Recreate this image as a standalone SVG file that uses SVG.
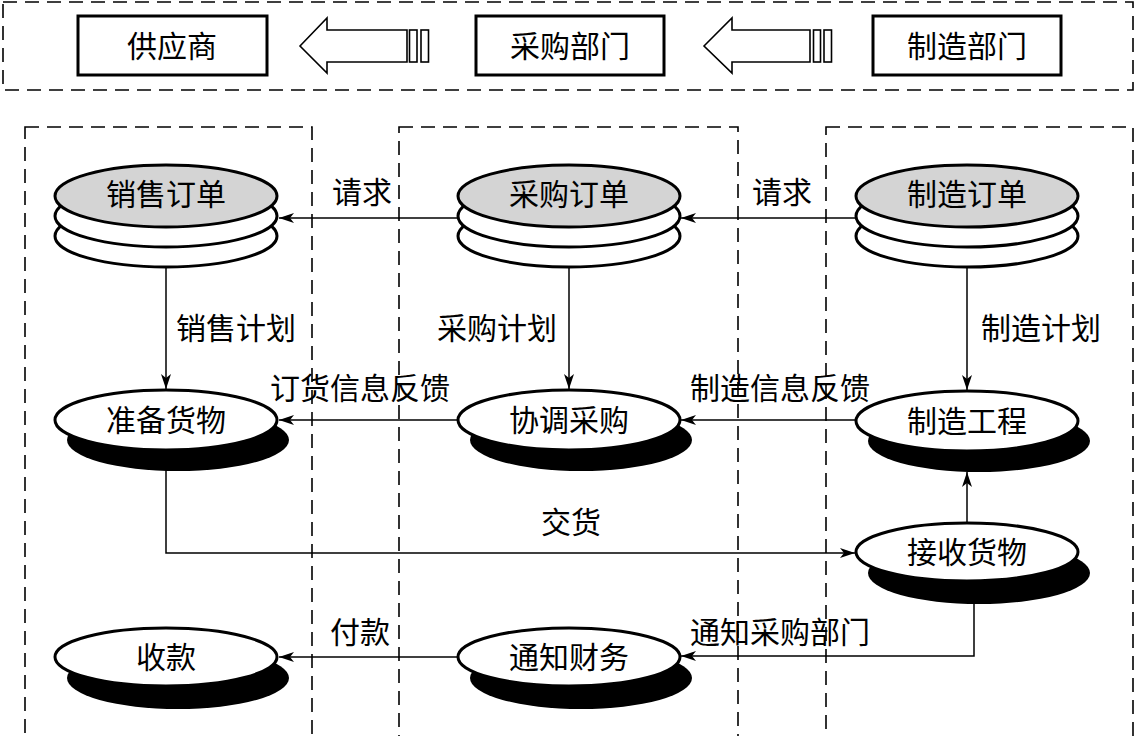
<svg xmlns="http://www.w3.org/2000/svg" width="1137" height="736" viewBox="0 0 1137 736">
<style>
.t{font-family:"Noto Sans CJK SC","Liberation Sans",sans-serif;font-size:30px;fill:#000;text-anchor:middle}
.dash{fill:none;stroke:#000;stroke-width:1.6;stroke-dasharray:14 8}
.box{fill:#fff;stroke:#000;stroke-width:3}
.big{fill:#fff;stroke:#000;stroke-width:1.6}
.disc{stroke:#000;stroke-width:3}
.sh{fill:#000}
.el{fill:#fff;stroke:#000;stroke-width:3}
.c{fill:none;stroke:#000;stroke-width:1.5}
</style>
<defs>
<marker id="ah" markerWidth="16" markerHeight="10" refX="15" refY="5" orient="auto" markerUnits="userSpaceOnUse">
<path d="M0,0 L15,5 L0,10 L4,5 Z" fill="#000"/>
</marker>
</defs>
<rect width="1137" height="736" fill="#fff"/>
<g id="frames">
<rect class="dash" x="3" y="2" width="1130" height="88" stroke-width="2"/>
<rect class="dash" x="25" y="127" width="287" height="610"/>
<rect class="dash" x="399" y="127" width="339" height="610"/>
<rect class="dash" x="826" y="127" width="307" height="610"/>
</g>
<g id="supplier"><rect class="box" x="78" y="16" width="189" height="59"/><text class="t" x="172" y="57">供应商</text></g>
<g id="purchase-dept"><rect class="box" x="476" y="16" width="188" height="59"/><text class="t" x="570" y="57">采购部门</text></g>
<g id="mfg-dept"><rect class="box" x="873" y="16" width="188" height="59"/><text class="t" x="967" y="57">制造部门</text></g>
<g id="big-arrow-1">
<path class="big" d="M300,46 L327,18 L327,30 L407,30 L407,62 L327,62 L327,73 Z"/>
<rect class="big" x="409.5" y="30" width="7.5" height="32"/>
<rect class="big" x="421" y="30" width="7.5" height="32"/>
</g>
<g id="big-arrow-2">
<path class="big" d="M704,46 L732,18 L732,30 L810,30 L810,62 L732,62 L732,73 Z"/>
<rect class="big" x="813.5" y="30" width="7" height="32"/>
<rect class="big" x="824" y="30" width="7.5" height="32"/>
</g>
<g id="sales-order">
<ellipse class="disc" cx="166" cy="236" rx="111" ry="31" fill="#fff"/>
<ellipse class="disc" cx="166" cy="216" rx="111" ry="31" fill="#fff"/>
<ellipse class="disc" cx="166" cy="196" rx="111" ry="31" fill="#d4d4d4"/>
<text class="t" x="166" y="205">销售订单</text>
</g>
<g id="purchase-order">
<ellipse class="disc" cx="569" cy="236" rx="111" ry="31" fill="#fff"/>
<ellipse class="disc" cx="569" cy="216" rx="111" ry="31" fill="#fff"/>
<ellipse class="disc" cx="569" cy="196" rx="111" ry="31" fill="#d4d4d4"/>
<text class="t" x="569" y="205">采购订单</text>
</g>
<g id="mfg-order">
<ellipse class="disc" cx="967" cy="236" rx="111" ry="31" fill="#fff"/>
<ellipse class="disc" cx="967" cy="216" rx="111" ry="31" fill="#fff"/>
<ellipse class="disc" cx="967" cy="196" rx="111" ry="31" fill="#d4d4d4"/>
<text class="t" x="967" y="205">制造订单</text>
</g>
<g id="prepare-goods"><ellipse class="sh" cx="178" cy="440" rx="111" ry="31"/><ellipse class="el" cx="166" cy="420" rx="111" ry="30"/><text class="t" x="166" y="431">准备货物</text></g>
<g id="coordinate-purchase"><ellipse class="sh" cx="581" cy="440" rx="111" ry="31"/><ellipse class="el" cx="569" cy="420" rx="111" ry="30"/><text class="t" x="569" y="431">协调采购</text></g>
<g id="mfg-engineering"><ellipse class="sh" cx="979" cy="441" rx="111" ry="31"/><ellipse class="el" cx="967" cy="421" rx="111" ry="30"/><text class="t" x="967" y="432">制造工程</text></g>
<g id="receive-goods"><ellipse class="sh" cx="979" cy="573" rx="111" ry="31"/><ellipse class="el" cx="967" cy="552" rx="111" ry="29"/><text class="t" x="967" y="563">接收货物</text></g>
<g id="collect"><ellipse class="sh" cx="178" cy="678" rx="111" ry="31"/><ellipse class="el" cx="166" cy="657" rx="111" ry="29"/><text class="t" x="166" y="668">收款</text></g>
<g id="notify-finance"><ellipse class="sh" cx="581" cy="678" rx="111" ry="31"/><ellipse class="el" cx="569" cy="657" rx="111" ry="29"/><text class="t" x="569" y="668">通知财务</text></g>
<g id="connectors">
<path class="c" d="M458,218 H279" marker-end="url(#ah)"/>
<path class="c" d="M857,218 H681" marker-end="url(#ah)"/>
<path class="c" d="M166,267 V389" marker-end="url(#ah)"/>
<path class="c" d="M569,267 V389" marker-end="url(#ah)"/>
<path class="c" d="M967,267 V390" marker-end="url(#ah)"/>
<path class="c" d="M458,420 H279" marker-end="url(#ah)"/>
<path class="c" d="M856,420 H681" marker-end="url(#ah)"/>
<path class="c" d="M166,469 V553 H855" marker-end="url(#ah)"/>
<path class="c" d="M967,523 V472" marker-end="url(#ah)"/>
<path class="c" d="M974,603 V656 H681" marker-end="url(#ah)"/>
<path class="c" d="M458,657 H279" marker-end="url(#ah)"/>
</g>
<g id="labels">
<text class="t" x="362" y="203">请求</text>
<text class="t" x="782" y="203">请求</text>
<text class="t" x="236" y="339">销售计划</text>
<text class="t" x="497" y="339">采购计划</text>
<text class="t" x="1041" y="339">制造计划</text>
<text class="t" x="360" y="399">订货信息反馈</text>
<text class="t" x="780" y="399">制造信息反馈</text>
<text class="t" x="571" y="533">交货</text>
<text class="t" x="360" y="643">付款</text>
<text class="t" x="780" y="643">通知采购部门</text>
</g>
</svg>
